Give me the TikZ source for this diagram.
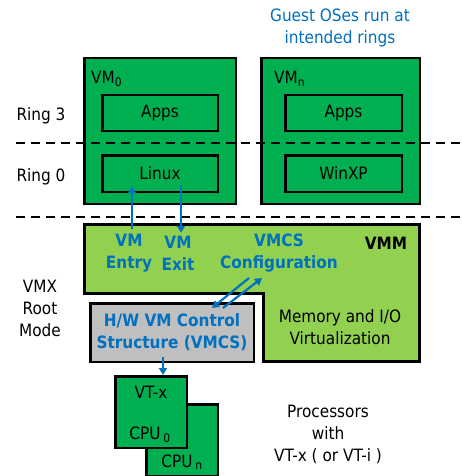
\documentclass[tikz,border=0pt]{standalone}
\usepackage{fontspec}
\setmainfont{DejaVu Sans Condensed}
\usetikzlibrary{arrows.meta,calc,positioning}
\definecolor{vmgreen}{HTML}{00B050}
\definecolor{vmmgreen}{HTML}{92D050}
\definecolor{hwgray}{HTML}{BFBFBF}
\definecolor{textblue}{HTML}{0070C0}
\begin{document}
\begin{tikzpicture}[x=1pt, y=-1pt,
  box/.style={draw, rectangle, line width=2.5pt, fill=vmgreen, inner sep=0pt, font=\fontsize{17}{21}\selectfont},
  txt/.style={align=center, inner sep=0pt, font=\fontsize{17}{22}\selectfont},
  bluetxt/.style={txt, text=textblue, font=\fontsize{17}{22}\selectfont\bfseries},
  ringline/.style={line width=2pt, dash pattern=on 9pt off 6pt},
  flow/.style={draw=textblue, line width=2.2pt, -{Triangle[width=8pt,length=7pt]}}]
  \useasboundingbox (0,0) rectangle (462,476);
  % Guest VMs
  \node[box, minimum width=151.5pt, minimum height=145.5pt] (vmzero) at (160,131) {};
  \node[box, minimum width=158.5pt, minimum height=145.5pt] (vmn) at (340.5,131) {};
  \node[txt, anchor=west] (vmzerotitle) at (91,79) {VM\textsubscript{0}};
  \node[txt, anchor=west] (vmntitle) at (274,79) {VM\textsubscript{n}};
  \node[txt] (guest) at (340,28) {\textcolor{textblue}{Guest OSes run at}\\\textcolor{textblue}{intended rings}};
  % Rings
  \coordinate (ringthreeleft) at (16,143);
  \coordinate (ringthreeright) at (462,143);
  \coordinate (ringzeroleft) at (16,217);
  \coordinate (ringzeroright) at (462,217);
  \draw[ringline] (ringthreeleft) -- (ringthreeright);
  \draw[ringline] (ringzeroleft) -- (ringzeroright);
  \node[txt] (ringthree) at (41,116) {Ring 3};
  \node[txt] (ringzero) at (41,177) {Ring 0};
  \node[box, minimum width=115.5pt, minimum height=35.5pt] (appszero) at (160,113) {Apps};
  \node[box, minimum width=115.5pt, minimum height=36.5pt] (linux) at (160,173.5) {Linux};
  \node[box, minimum width=116.5pt, minimum height=35.5pt] (appsn) at (343.5,113) {Apps};
  \node[box, minimum width=116.5pt, minimum height=36.5pt] (winxp) at (343.5,173.5) {WinXP};
  % VMM
  \draw[line width=2.5pt, fill=vmmgreen] (84.5,224.5) -- (419.5,224.5) -- (419.5,361.5)
    -- (263.5,361.5) -- (263.5,293.5) -- (84.5,293.5) -- cycle;
  \node[txt, font=\fontsize{17}{22}\selectfont\bfseries] (vmm) at (386,243) {VMM};
  \node[bluetxt] (entry) at (129,253) {VM\\Entry};
  \node[bluetxt] (exit) at (178,253) {VM\\Exit};
  \node[bluetxt] (config) at (279,253) {VMCS\\Configuration};
  \node[txt] (memio) at (340,327) {Memory and I/O\\Virtualization};
  \node[txt] (vmx) at (40,308) {VMX\\Root\\Mode};
  \node[box, fill=hwgray, minimum width=163.5pt, minimum height=58.5pt] (vmcs) at (172,332.5) {};
  \node[bluetxt] (vmcstxt) at (vmcs) {H/W VM Control\\Structure (VMCS)};
  % Processors
  \node[box, minimum width=71.5pt, minimum height=71.5pt] (cpun) at (182,440) {};
  \node[box, minimum width=71.5pt, minimum height=71.5pt] (cpuzero) at (151,412) {};
  \node[txt] (vtx) at (151,392) {VT-x};
  \node[txt] (cpuzerotxt) at (150,435) {CPU\,\textsubscript{0}};
  \node[txt] (cpuntxt) at (182,462) {CPU\,\textsubscript{n}};
  \node[txt] (procs) at (328,434) {Processors\\with\\VT-x ( or VT-i )};
  % Transitions
  \coordinate (entrytail) at (132,229);
  \coordinate (exittail) at (181,185);
  \draw[flow] (entrytail) -- ($(entrytail |- linux.south)+(0,-7)$);
  \draw[flow] (exittail) -- ($(exittail |- entry.north)+(0,-1)$);
  \coordinate (cfgtip) at (262,278);
  \coordinate (cfgtail) at (249,278);
  \coordinate (hwtail) at (223,308);
  \coordinate (hwtip) at (212,308);
  \draw[flow] (hwtail) -- (cfgtip);
  \draw[flow] (cfgtail) -- (hwtip);
  \coordinate (cputail) at (163,357);
  \draw[flow] (cputail) -- (cputail |- cpuzero.north);
\end{tikzpicture}
\end{document}
